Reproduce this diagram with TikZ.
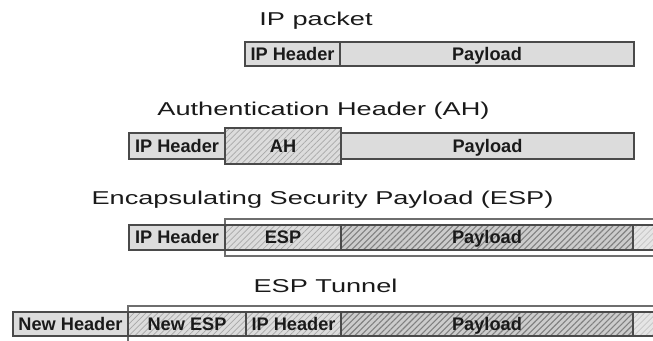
\documentclass[tikz,border=0pt]{standalone}
\usepackage{fontspec}
\setmainfont{Liberation Sans}
\newfontfamily\titlefont[FakeStretch=1.46]{Liberation Sans}
\usetikzlibrary{patterns.meta}
\definecolor{cellgray}{HTML}{DCDCDC}
\definecolor{edgegray}{HTML}{4A4A4A}
\definecolor{outergray}{HTML}{6E6E6E}
\definecolor{hatchlight}{HTML}{A8A8A8}
\definecolor{hatchdark}{HTML}{808080}
\definecolor{hatchpale}{HTML}{C4C4C4}
\definecolor{textgray}{HTML}{1A1A1A}
\begin{document}
\begin{tikzpicture}[x=1pt,y=-1pt,
  title/.style={font=\titlefont\fontsize{18.6}{20}\selectfont, text=textgray, anchor=base, inner sep=0pt},
  cell/.style={draw=edgegray, line width=1.3pt, fill=cellgray, anchor=north west,
    font=\bfseries\fontsize{18.2}{20}\selectfont, text=textgray,
    text height=12.9pt, text depth=0pt, inner sep=0pt, outer sep=0pt},
  hatchcell/.style={cell, fill=none, preaction={fill=cellgray},
    pattern={Lines[angle=45,distance=4.2pt,line width=0.7pt]}, pattern color=hatchlight},
  darkcell/.style={cell, fill=none, preaction={fill=black!20},
    pattern={Lines[angle=45,distance=4.2pt,line width=1.1pt]}, pattern color=hatchdark},
  palecell/.style={cell, fill=none, preaction={fill=black!10},
    pattern={Lines[angle=45,distance=4.2pt,line width=0.7pt]}, pattern color=hatchpale},
  outerbox/.style={draw=outergray, line width=1.8pt}
]
\useasboundingbox (0,0) rectangle (653,340);
\clip (0,0) rectangle (653,340);

% ---- IP packet ----
\node[title] (t1) at (316,25.7) {IP packet};
\node[cell, minimum width=95pt, minimum height=24pt] (r1h) at (245,42) {IP Header};
\node[cell, minimum width=294pt, minimum height=24pt] (r1p) at (340,42) {Payload};

% ---- AH ----
\node[title] (t2) at (323.5,115) {Authentication Header (AH)};
\node[cell, minimum width=96pt, minimum height=26pt] (r2h) at (129,133) {IP Header};
\node[cell, minimum width=293pt, minimum height=26pt] (r2p) at (341,133) {Payload};
\node[hatchcell, minimum width=116pt, minimum height=36pt] (r2a) at (225,128) {AH};

% ---- ESP ----
\node[title] (t3) at (322.5,204) {Encapsulating Security Payload (ESP)};
\draw[outerbox] (225,219) rectangle (680,256);
\node[cell, minimum width=96pt, minimum height=25pt] (r3h) at (129,225) {IP Header};
\node[hatchcell, minimum width=116pt, minimum height=25pt] (r3e) at (225,225) {ESP};
\node[darkcell, minimum width=292pt, minimum height=25pt] (r3p) at (341,225) {Payload};
\node[palecell, minimum width=40pt, minimum height=25pt] (r3t) at (633,225) {};

% ---- ESP Tunnel ----
\node[title] (t4) at (325.5,292) {ESP Tunnel};
\draw[outerbox] (128,306) rectangle (680,350);
\node[cell, minimum width=115pt, minimum height=24pt] (r4n) at (13,312) {New Header};
\node[hatchcell, minimum width=118pt, minimum height=24pt] (r4e) at (128,312) {New ESP};
\node[hatchcell, minimum width=95pt, minimum height=24pt] (r4h) at (246,312) {IP Header};
\node[darkcell, minimum width=292pt, minimum height=24pt] (r4p) at (341,312) {Payload};
\node[palecell, minimum width=40pt, minimum height=24pt] (r4t) at (633,312) {};
\end{tikzpicture}
\end{document}
